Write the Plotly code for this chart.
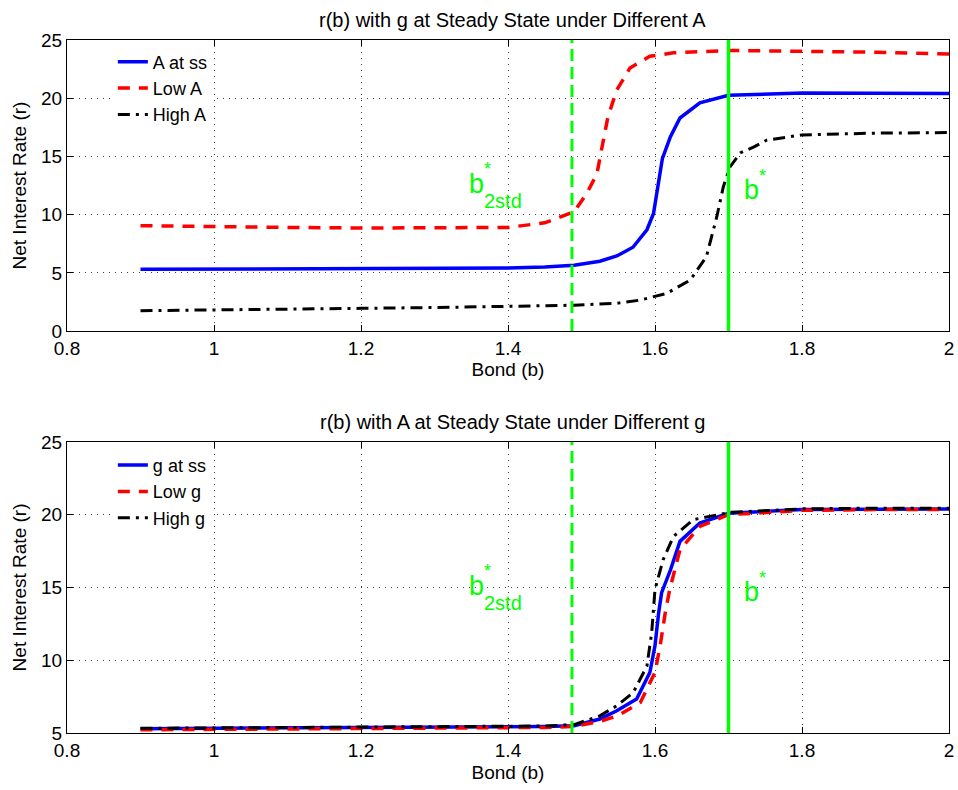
import plotly.graph_objects as go

# ---------------- data ----------------
# Top panel: r(b) with g at steady state, different A
b_ss_top = [0.9, 1.0, 1.1, 1.2, 1.3, 1.4, 1.45, 1.49, 1.525, 1.548, 1.57, 1.589, 1.598, 1.605, 1.61, 1.621, 1.634, 1.661, 1.70, 1.80, 1.9, 2.0]
r_ss_top = [5.3, 5.32, 5.35, 5.37, 5.4, 5.42, 5.5, 5.65, 6.0, 6.45, 7.2, 8.7, 10.1, 13.0, 14.8, 16.7, 18.3, 19.6, 20.25, 20.45, 20.45, 20.4]

b_lowA = [0.9, 1.0, 1.1, 1.2, 1.3, 1.4, 1.45, 1.49, 1.507, 1.521, 1.527, 1.536, 1.548, 1.566, 1.593, 1.625, 1.70, 1.80, 1.9, 2.0]
r_lowA = [9.05, 8.95, 8.9, 8.85, 8.85, 8.9, 9.3, 10.25, 11.8, 13.5, 15.5, 18.4, 20.7, 22.6, 23.6, 23.9, 24.1, 24.05, 23.95, 23.8]

b_highA = [0.9, 1.0, 1.1, 1.2, 1.3, 1.4, 1.49, 1.55, 1.58, 1.616, 1.648, 1.670, 1.684, 1.693, 1.702, 1.716, 1.734, 1.752, 1.8, 1.9, 2.0]
r_highA = [1.75, 1.8, 1.88, 1.95, 2.02, 2.1, 2.22, 2.4, 2.66, 3.24, 4.38, 6.4, 9.8, 12.4, 14.1, 15.3, 15.8, 16.4, 16.85, 17.0, 17.05]

# Bottom panel: r(b) with A at steady state, different g
b_ss_bot = [0.9, 1.0, 1.1, 1.2, 1.3, 1.4, 1.45, 1.49, 1.525, 1.548, 1.575, 1.593, 1.6, 1.605, 1.609, 1.621, 1.634, 1.661, 1.70, 1.80, 1.9, 2.0]
r_ss_bot = [5.3, 5.32, 5.34, 5.36, 5.38, 5.4, 5.45, 5.5, 5.96, 6.53, 7.33, 9.16, 11.0, 13.27, 14.64, 16.2, 18.17, 19.43, 20.1, 20.35, 20.4, 20.4]

b_lowg = [0.9, 1.0, 1.1, 1.2, 1.3, 1.4, 1.45, 1.49, 1.525, 1.55, 1.58, 1.60, 1.607, 1.614, 1.620, 1.634, 1.661, 1.70, 1.80, 1.9, 2.0]
r_lowg = [5.22, 5.25, 5.27, 5.29, 5.31, 5.33, 5.38, 5.45, 5.8, 6.2, 7.1, 9.16, 11.0, 13.27, 14.86, 17.6, 19.2, 20.0, 20.3, 20.35, 20.35]

b_highg = [0.9, 1.0, 1.1, 1.2, 1.3, 1.4, 1.45, 1.49, 1.525, 1.548, 1.5705, 1.589, 1.5955, 1.60, 1.611, 1.625, 1.652, 1.702, 1.80, 1.9, 2.0]
r_highg = [5.32, 5.34, 5.36, 5.38, 5.4, 5.42, 5.48, 5.58, 6.18, 6.87, 7.79, 9.6, 11.9, 14.86, 16.9, 18.5, 19.66, 20.16, 20.4, 20.45, 20.45]

b_2std = 1.487
b_star = 1.70

x_ticks = [0.8, 1.0, 1.2, 1.4, 1.6, 1.8, 2.0]
x_ticklabels = ["0.8", "1", "1.2", "1.4", "1.6", "1.8", "2"]
y_ticks_top = [0, 5, 10, 15, 20, 25]
y_ticks_bot = [5, 10, 15, 20, 25]

# ---------------- styles ----------------
FONT = "Liberation Sans, Arial, Helvetica, sans-serif"
FS = 19
GREEN = "#00ff00"
BLUE = "#0000ff"
RED = "#ff0000"
BLACK = "#000000"

fig = go.Figure()

def add(x, y, name, color, dash, width, xa, ya, legend):
    fig.add_trace(go.Scatter(
        x=x, y=y, mode="lines", name=name,
        line=dict(color=color, dash=dash, width=width),
        xaxis=xa, yaxis=ya, legend=legend))

add(b_ss_top, r_ss_top, "A at ss", BLUE, "solid", 3.5, "x", "y", "legend")
add(b_lowA, r_lowA, "Low A", RED, "12px,9px", 3.5, "x", "y", "legend")
add(b_highA, r_highA, "High A", BLACK, "12px,6px,3px,6px", 3, "x", "y", "legend")

add(b_ss_bot, r_ss_bot, "g at ss", BLUE, "solid", 3.5, "x2", "y2", "legend2")
add(b_lowg, r_lowg, "Low g", RED, "12px,9px", 3.5, "x2", "y2", "legend2")
add(b_highg, r_highg, "High g", BLACK, "12px,6px,3px,6px", 3, "x2", "y2", "legend2")

# vertical reference lines
for xr, yr in [("x", "y"), ("x2", "y2")]:
    fig.add_shape(type="line", xref=xr, yref=yr + " domain", x0=b_2std, x1=b_2std, y0=0, y1=1,
                  line=dict(color=GREEN, width=3, dash="12px,6px"))
    fig.add_shape(type="line", xref=xr, yref=yr + " domain", x0=b_star, x1=b_star, y0=0, y1=1,
                  line=dict(color=GREEN, width=3.5))

axis_common = dict(
    showline=True, linecolor="black", linewidth=1, mirror="ticks",
    ticks="inside", ticklen=6, tickcolor="black",
    showgrid=True, gridcolor="#444444", gridwidth=1, griddash="1px,5px",
    zeroline=False, tickfont=dict(family=FONT, size=FS, color="black"),
    ticklabeloverflow="allow", automargin=False,
)

fig.update_layout(
    width=958, height=790,
    margin=dict(l=67, r=9, t=40, b=57),
    paper_bgcolor="white", plot_bgcolor="white",
    showlegend=True,
    font=dict(family=FONT, color="black"),
    xaxis=dict(axis_common, range=[0.8, 2.0], tickvals=x_ticks, ticktext=x_ticklabels,
               anchor="y", domain=[0, 1],
               title=dict(text="Bond (b)", font=dict(size=FS), standoff=2)),
    yaxis=dict(axis_common, range=[0, 25], tickvals=y_ticks_top, anchor="x", domain=[0.58, 1],
               title=dict(text="Net Interest Rate (r)", font=dict(size=FS), standoff=9)),
    xaxis2=dict(axis_common, range=[0.8, 2.0], tickvals=x_ticks, ticktext=x_ticklabels,
                anchor="y2", domain=[0, 1],
                title=dict(text="Bond (b)", font=dict(size=FS), standoff=5)),
    yaxis2=dict(axis_common, range=[5, 25], tickvals=y_ticks_bot, anchor="x2", domain=[0, 0.42],
                title=dict(text="Net Interest Rate (r)", font=dict(size=FS), standoff=9)),
    legend=dict(x=0.052, y=0.995, xanchor="left", yanchor="top", bgcolor="white",
                borderwidth=0, font=dict(family=FONT, size=18), tracegroupgap=0),
    legend2=dict(x=0.052, y=0.413, xanchor="left", yanchor="top", bgcolor="white",
                 borderwidth=0, font=dict(family=FONT, size=18), tracegroupgap=0),
)

# subplot titles
fig.add_annotation(text="r(b) with g at Steady State under Different A", xref="paper", yref="paper",
                   x=0.505, y=1.0, yshift=7, yanchor="bottom", showarrow=False,
                   font=dict(family=FONT, size=20))
fig.add_annotation(text="r(b) with A at Steady State under Different g", xref="paper", yref="paper",
                   x=0.505, y=0.42, yshift=7, yanchor="bottom", showarrow=False,
                   font=dict(family=FONT, size=20))

# green labels (positions in axis-domain fractions)
for xr, yr in [("x", "y"), ("x2", "y2")]:
    yd = yr + " domain"
    fig.add_annotation(text="b", xref=xr, yref=yd, x=1.3443, y=0.474, yshift=9,
                       xanchor="left", yanchor="middle", showarrow=False,
                       font=dict(family=FONT, size=27, color=GREEN))
    fig.add_annotation(text="*", xref=xr, yref=yd, x=1.3647, y=0.474, yshift=24,
                       xanchor="left", yanchor="middle", showarrow=False,
                       font=dict(family=FONT, size=18, color=GREEN))
    fig.add_annotation(text="2std", xref=xr, yref=yd, x=1.3647, y=0.474, yshift=-8,
                       xanchor="left", yanchor="middle", showarrow=False,
                       font=dict(family=FONT, size=20, color=GREEN))
    fig.add_annotation(text="b", xref=xr, yref=yd, x=1.7185, y=0.457, yshift=8,
                       xanchor="left", yanchor="middle", showarrow=False,
                       font=dict(family=FONT, size=27, color=GREEN))
    fig.add_annotation(text="*", xref=xr, yref=yd, x=1.7385, y=0.457, yshift=22,
                       xanchor="left", yanchor="middle", showarrow=False,
                       font=dict(family=FONT, size=18, color=GREEN))

fig.write_html("out.html",
               config={"displayModeBar": False},
               post_script="document.body.style.margin='0';document.body.style.overflow='hidden';")
